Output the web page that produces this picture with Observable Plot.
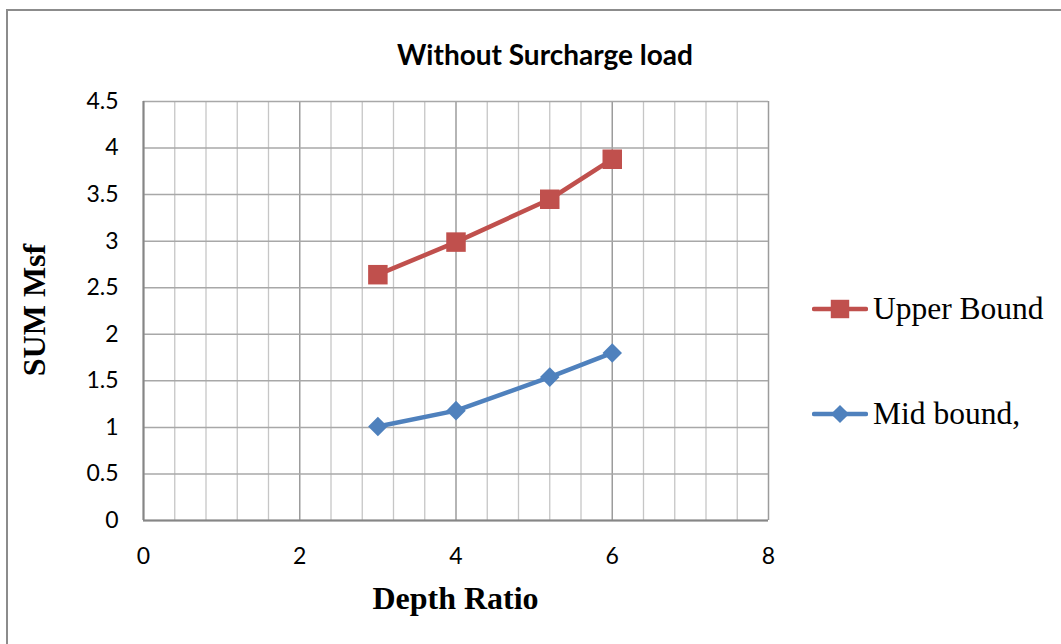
<!DOCTYPE html>
<html><head><meta charset="utf-8">
<script src="https://cdn.jsdelivr.net/npm/d3@7"></script>
<script src="https://cdn.jsdelivr.net/npm/@observablehq/plot@0.6"></script>
<style>
body{margin:0;background:#fff;width:1061px;height:644px;overflow:hidden;position:relative;}
#frame{position:absolute;left:6px;top:9px;width:1100px;height:700px;border:2px solid #8c8c8c;box-sizing:border-box;}
#chart{position:absolute;left:0;top:0;}
#chart svg text{font-size:23px;}
#title{position:absolute;left:0;width:1090px;top:37px;text-align:center;font-family:Lato,sans-serif;font-weight:bold;font-size:28px;line-height:34px;color:#000;}
#xlabel{position:absolute;left:143px;width:625px;top:580px;text-align:center;font-family:"Liberation Serif",serif;font-weight:bold;font-size:32px;line-height:36px;}
#ylabel{position:absolute;left:34px;top:310px;transform:translate(-50%,-50%) rotate(-90deg);white-space:nowrap;font-family:"Liberation Serif",serif;font-weight:bold;font-size:32px;line-height:36px;}
.leg{position:absolute;left:812px;display:flex;align-items:center;font-family:"Liberation Serif",serif;font-size:31.5px;line-height:36px;white-space:nowrap;}
.leg svg{margin-right:5px;}
</style></head><body>
<div id="frame"></div>
<div id="chart"></div>
<div id="title">Without Surcharge load</div>
<div id="xlabel">Depth Ratio</div>
<div id="ylabel">SUM Msf</div>
<div id="legend"></div>
<script>
const depthRatio = [3, 4, 5.2, 6];
const upperBound = [2.64, 2.99, 3.45, 3.88];
const midBound = [1.01, 1.18, 1.54, 1.80];
const seriesNames = ["Upper Bound", "Mid bound,"];
const seriesColors = ["#C0504D", "#4F81BD"];
const seriesSymbols = ["square", "diamond2"];
const xTicks = [0, 2, 4, 6, 8];
const yTicks = [0, 0.5, 1, 1.5, 2, 2.5, 3, 3.5, 4, 4.5];
const xMinorGrid = [0.4, 0.8, 1.2, 1.6, 2.4, 2.8, 3.2, 3.6, 4.4, 4.8, 5.2, 5.6, 6.4, 6.8, 7.2, 7.6];

const rows = [];
depthRatio.forEach((x, i) => rows.push({series: seriesNames[0], x, y: upperBound[i]}));
depthRatio.forEach((x, i) => rows.push({series: seriesNames[1], x, y: midBound[i]}));

const chart = Plot.plot({
  width: 1061,
  height: 644,
  marginLeft: 143,
  marginRight: 293,
  marginTop: 101,
  marginBottom: 124,
  style: {background: "none", fontFamily: "Lato, sans-serif", fontSize: "23px"},
  x: {domain: [0, 8]},
  y: {domain: [0, 4.5]},
  color: {domain: seriesNames, range: seriesColors},
  symbol: {domain: seriesNames, range: seriesSymbols},
  marks: [
    Plot.ruleX(xMinorGrid, {stroke: "#c6c6c6", strokeWidth: 1.3}),
    Plot.ruleX(xTicks, {stroke: "#9c9c9c", strokeWidth: 1.5}),
    Plot.ruleY(yTicks, {stroke: "#a8a8a8", strokeWidth: 1.5}),
    Plot.ruleX([0], {stroke: "#868686", strokeWidth: 2}),
    Plot.ruleY([0], {stroke: "#868686", strokeWidth: 2}),
    Plot.axisX({ticks: xTicks, tickSize: 0, tickPadding: 27, fontSize: 23, label: null, tickFormat: d => String(d)}),
    Plot.axisY({ticks: yTicks, tickSize: 0, tickPadding: 25, fontSize: 23, label: null, tickFormat: d => String(d)}),
    Plot.line(rows, {x: "x", y: "y", z: "series", stroke: "series", strokeWidth: 4.5, strokeLinejoin: "round"}),
    Plot.dot(rows.filter(d => d.series === seriesNames[0]), {x: "x", y: "y", symbol: "series", fill: "series", r: 11}),
    Plot.dot(rows.filter(d => d.series === seriesNames[1]), {x: "x", y: "y", symbol: "series", fill: "series", r: 8.8})
  ]
});
document.getElementById("chart").appendChild(chart);

// legend
const legendTops = [291, 396];
const legend = document.getElementById("legend");
seriesNames.forEach((name, i) => {
  const div = document.createElement("div");
  div.className = "leg";
  div.style.top = legendTops[i] + "px";
  const sw = d3.create("svg").attr("width", 56).attr("height", 24);
  sw.append("line").attr("x1", 2).attr("x2", 54).attr("y1", 12).attr("y2", 12)
    .attr("stroke", seriesColors[i]).attr("stroke-width", 4.5).attr("stroke-linecap", "round");
  const sym = i === 0 ? d3.symbolSquare : d3.symbolDiamond2;
  const size = i === 0 ? 340 : 210;
  sw.append("path").attr("d", d3.symbol(sym, size)()).attr("transform", "translate(28,12)").attr("fill", seriesColors[i]);
  div.appendChild(sw.node());
  const span = document.createElement("span");
  span.textContent = name;
  div.appendChild(span);
  legend.appendChild(div);
});
</script>
</body></html>
